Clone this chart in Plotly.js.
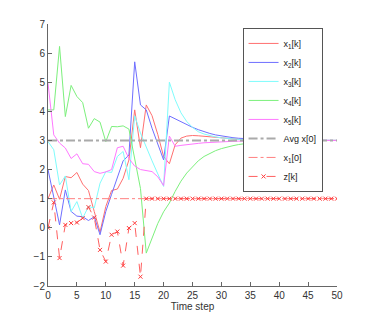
<!DOCTYPE html>
<html>
<head>
<meta charset="utf-8">
<script src="https://cdn.plot.ly/plotly-3.0.1.min.js"></script>
<style>
  html, body { margin: 0; padding: 0; background: #fff; }
  #chart { width: 372px; height: 323px; }
</style>
</head>
<body>
<div id="chart"></div>
<script>
// time steps 0..50
var steps = [];
for (var k = 0; k <= 50; k++) steps.push(k);

var x1 = [1.0, 1.47, 0.98, 1.76, 1.72, 1.9, 1.5, 1.28, 0.56, -0.15,
  0.73, 1.28, 1.33, 1.7, 2.33, 4.05, 2.75, 4.22, 3.85, 3.2,
  2.45, 2.2, 2.85, 3.08, 3.15, 3.17, 3.16, 3.14, 3.12, 3.1,
  3.08, 3.065, 3.05, 3.04, 3.03, 3.025, 3.02, 3.015, 3.01, 3.01,
  3.005, 3.0, 3.0, 3.0, 3.0, 3.0, 3.0, 3.0, 3.0, 3.0, 3.0];

var x2 = [2.0, 1.07, 0.1, 1.3, 0.56, 0.4, 0.38, 0.25, 0.38, -0.24,
  0.56, 1.15, 1.75, 2.3, 2.5, 5.7, 4.22, 4.05, 3.42, 2.91,
  2.33, 3.84, 3.74, 3.64, 3.54, 3.45, 3.37, 3.3, 3.24, 3.19,
  3.15, 3.12, 3.095, 3.075, 3.06, 3.048, 3.038, 3.03, 3.024, 3.019,
  3.015, 3.012, 3.01, 3.008, 3.006, 3.005, 3.004, 3.003, 3.002, 3.002, 3.001];

var x3 = [2.96, 2.68, 1.47, 1.78, 0.56, 0.9, 0.33, 0.73, 0.68, 1.53,
  1.93, 1.9, 2.45, 2.62, 1.65, 3.85, 3.25, 2.75, 2.3, 1.85,
  1.42, 5.0, 4.4, 3.95, 3.65, 3.45, 3.3, 3.22, 3.16, 3.12,
  3.09, 3.065, 3.05, 3.035, 3.025, 3.02, 3.015, 3.01, 3.008, 3.006,
  3.004, 3.003, 3.002, 3.0, 3.0, 3.0, 3.0, 3.0, 3.0, 3.0, 3.0];

var x4 = [4.05, 4.05, 6.23, 3.82, 4.89, 4.51, 4.3, 3.42, 3.75, 3.63,
  2.96, 3.48, 3.47, 3.5, 3.39, 2.3, 1.35, -0.87, -0.35, 0.15,
  0.55, 0.85, 1.25, 1.6, 1.88, 2.1, 2.3, 2.45, 2.56, 2.65,
  2.72, 2.78, 2.82, 2.86, 2.89, 2.92, 2.94, 2.95, 2.96, 2.97,
  2.98, 2.985, 2.99, 2.99, 2.993, 2.995, 2.996, 2.997, 2.998, 2.999, 3.0];

var x5 = [4.97, 3.19, 2.91, 2.74, 2.38, 2.54, 2.2, 2.18, 1.93, 1.87,
  1.92, 2.0, 2.75, 2.8, 2.38, 2.12, 2.0, 1.97, 1.93, 1.75,
  1.45, 3.15, 2.8, 2.83, 2.86, 2.88, 2.9, 2.92, 2.935, 2.95,
  2.96, 2.965, 2.97, 2.975, 2.98, 2.985, 2.99, 2.99, 2.993, 2.995,
  2.996, 2.997, 2.998, 2.999, 3.0, 3.0, 3.0, 3.0, 3.0, 3.0, 3.0];

var z = [0, 0.87, -1.04, 0.1, 0.16, 0.18, 0.33, 0.71, 0.35, -0.76,
  -1.16, -0.24, -0.13, -1.3, -0.01, 0.16, -1.68, 1, 1, 1,
  1, 1, 1, 1, 1, 1, 1, 1, 1, 1,
  1, 1, 1, 1, 1, 1, 1, 1, 1, 1,
  1, 1, 1, 1, 1, 1, 1, 1, 1, 1, 1];

var avgX0 = 3;
var x1Init = 1;

var names = ['x<sub>1</sub>[k]', 'x<sub>2</sub>[k]', 'x<sub>3</sub>[k]',
  'x<sub>4</sub>[k]', 'x<sub>5</sub>[k]'];
var colors = ['#ff7070', '#6f6fff', '#7ffcfc', '#7cf07c', '#ff78ff'];
var series = [x1, x2, x3, x4, x5];

var data = [];
for (var i = 0; i < series.length; i++) {
  data.push({
    x: steps, y: series[i], name: names[i], type: 'scatter', mode: 'lines',
    line: {color: colors[i], width: 1}
  });
}

data.push({
  x: steps, y: steps.map(function () { return avgX0; }),
  name: 'Avg x[0]', type: 'scatter', mode: 'lines',
  line: {color: '#aaaaaa', width: 2, dash: 'dashdot'}
});
data.push({
  x: steps, y: steps.map(function () { return x1Init; }),
  name: 'x<sub>1</sub>[0]', type: 'scatter', mode: 'lines',
  line: {color: '#ff8080', width: 1, dash: 'dashdot'}
});
data.push({
  x: steps, y: z, name: 'z[k]', type: 'scatter', mode: 'lines+markers',
  line: {color: '#ff6060', width: 1, dash: 'dash'},
  marker: {symbol: 'x-thin', size: 4, line: {color: '#ff3a3a', width: 1}}
});

var axisStyle = {
  showgrid: false, zeroline: false, showline: true, linecolor: '#666',
  ticks: 'inside', ticklen: 4, tickcolor: '#666',
  tickfont: {size: 10, color: '#333'}
};

var layout = {
  width: 372, height: 323,
  margin: {l: 48, r: 35, t: 24, b: 37},
  paper_bgcolor: '#fff', plot_bgcolor: '#fff',
  font: {family: 'Liberation Sans, Arial, sans-serif', size: 10, color: '#333'},
  xaxis: Object.assign({}, axisStyle, {
    range: [0, 50], dtick: 5,
    title: {text: 'Time step', standoff: 2, font: {size: 10}}
  }),
  yaxis: Object.assign({}, axisStyle, {range: [-2, 7], dtick: 1}),
  showlegend: true,
  legend: {
    x: 0.95, xanchor: 'right', y: 0.985, yanchor: 'top',
    bgcolor: '#fff', bordercolor: '#555', borderwidth: 1,
    font: {size: 9, color: '#222'}
  }
};

Plotly.newPlot('chart', data, layout, {staticPlot: true});
</script>
</body>
</html>
